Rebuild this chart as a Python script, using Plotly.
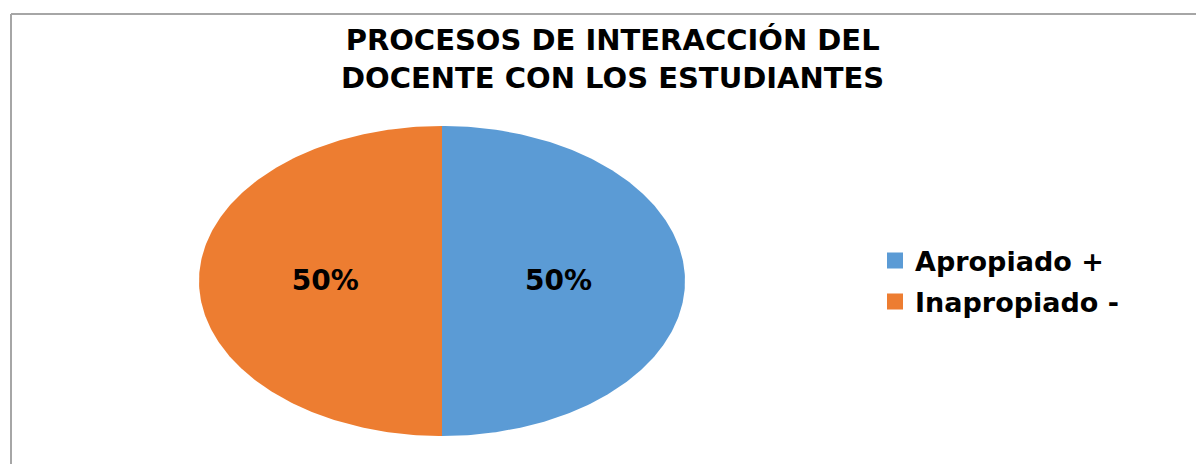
import numpy as np
import plotly.graph_objects as go

categories = ["Apropiado +", "Inapropiado -"]
values = [50, 50]
colors = ["#5B9BD5", "#ED7D31"]
title_lines = ["PROCESOS DE INTERACCIÓN DEL", "DOCENTE CON LOS ESTUDIANTES"]

# page body has an 8px margin; figure placed at (8, 8)
W, H = 1196, 456
FONT = "DejaVu Sans"

fig = go.Figure()
total = float(sum(values))
legend_ids = ["legend", "legend2"]
start = 0.0
for cat, val, col, lg in zip(categories, values, colors, legend_ids):
    f0 = start / total
    f1 = (start + val) / total
    t = np.linspace(f0, f1, 240)
    ang = np.pi / 2 - 2 * np.pi * t
    xs = np.concatenate([[0.0], np.cos(ang), [0.0]])
    ys = np.concatenate([[0.0], np.sin(ang), [0.0]])
    fig.add_trace(go.Scatter(
        x=xs, y=ys, mode="lines", fill="toself", fillcolor=col,
        line=dict(width=0, color=col), showlegend=False, hoverinfo="skip",
        legendgroup=cat,
    ))
    mid = np.pi / 2 - 2 * np.pi * (f0 + f1) / 2
    fig.add_trace(go.Scatter(
        x=[0.48 * np.cos(mid)], y=[0.48 * np.sin(mid) - 0.01], mode="text",
        text=[f"{val / total:.0%}"],
        textfont=dict(family=FONT, size=28, color="black", weight="bold"),
        showlegend=False, hoverinfo="skip",
    ))
    fig.add_trace(go.Scatter(
        x=[None], y=[None], mode="markers", name=cat, legendgroup=cat,
        legend=lg, marker=dict(symbol="square", size=16, color=col),
    ))
    start += val

fig.add_annotation(
    text="<br>".join(title_lines), xref="paper", yref="paper",
    x=604 / W, y=1 - 51 / H, xanchor="center", yanchor="middle", showarrow=False,
    font=dict(family=FONT, size=29, color="black", weight="bold"),
)

fig.add_shape(type="line", xref="paper", yref="paper",
              x0=3 / W, x1=1.05, y0=1 - 6 / H, y1=1 - 6 / H,
              line=dict(color="#a6a6a6", width=2))
fig.add_shape(type="line", xref="paper", yref="paper",
              x0=3 / W, x1=3 / W, y0=-0.05, y1=1 - 6 / H,
              line=dict(color="#a6a6a6", width=2))

leg_common = dict(xanchor="left", yanchor="middle",
                  font=dict(family=FONT, size=27, color="black", weight="bold"),
                  bgcolor="rgba(0,0,0,0)", itemclick=False, itemdoubleclick=False)

fig.update_layout(
    width=W, height=H, autosize=False,
    margin=dict(l=0, r=0, t=0, b=0),
    paper_bgcolor="white", plot_bgcolor="white",
    xaxis=dict(domain=[191 / W, 677 / W], range=[-1, 1], visible=False, fixedrange=True),
    yaxis=dict(domain=[(H - 428) / H, (H - 118) / H], range=[-1, 1], visible=False, fixedrange=True),
    legend=dict(x=867 / W, y=1 - 253 / H, **leg_common),
    legend2=dict(x=867 / W, y=1 - 294 / H, **leg_common),
    showlegend=True,
)

fig.write_html("out.html")
